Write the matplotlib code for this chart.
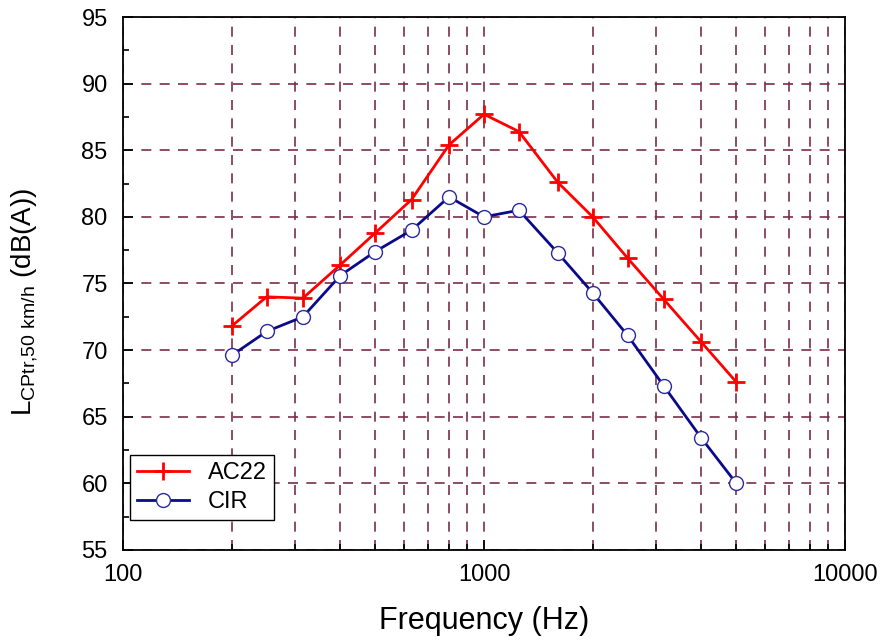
import matplotlib.pyplot as plt
from matplotlib.ticker import MultipleLocator, LogLocator, NullFormatter, FixedFormatter, FixedLocator

plt.rcParams['font.family'] = ['Liberation Sans', 'DejaVu Sans']
plt.rcParams['mathtext.default'] = 'regular'

# third-octave band centre frequencies (Hz)
freq = [200, 250, 315, 400, 500, 630, 800, 1000, 1250, 1600, 2000, 2500, 3150, 4000, 5000]
ac22 = [71.8, 74.0, 73.9, 76.4, 78.8, 81.3, 85.4, 87.7, 86.4, 82.6, 80.0, 76.9, 73.8, 70.6, 67.6]
cir = [69.6, 71.4, 72.5, 75.6, 77.4, 79.0, 81.5, 80.0, 80.5, 77.3, 74.3, 71.1, 67.3, 63.4, 60.0]

fig = plt.figure(figsize=(8.85, 6.44), dpi=100)
ax = fig.add_axes([123 / 885, 1 - 550 / 644, 722 / 885, 533 / 644])

grid_col = '#7a2e48'

ax.plot(freq, ac22, color='red', lw=2, marker='+', ms=13, mew=2, label='AC22', zorder=3)
ax.plot(freq, cir, color='#0a0a8a', lw=2, marker='o', ms=10, mfc='white', mec='#2a2aa0',
        mew=1, label='CIR', zorder=3)

ax.set_xscale('log')
ax.set_xlim(100, 10000)
ax.set_ylim(55, 95)
ax.yaxis.set_major_locator(MultipleLocator(5))
ax.yaxis.set_minor_locator(MultipleLocator(2.5))
ax.xaxis.set_major_locator(FixedLocator([100, 1000, 10000]))
ax.xaxis.set_major_formatter(FixedFormatter(['100', '1000', '10000']))
ax.xaxis.set_minor_locator(LogLocator(base=10, subs=range(2, 10)))
ax.xaxis.set_minor_formatter(NullFormatter())

ax.grid(True, which='major', axis='both', color=grid_col, ls=(0, (6, 5)), lw=1.2)
ax.grid(True, which='minor', axis='x', color=grid_col, ls=(0, (6, 5)), lw=1.2)

ax.tick_params(which='both', direction='in', labelsize=17, width=1.2)
ax.tick_params(which='major', length=7)
ax.tick_params(which='minor', length=4)
ax.tick_params(axis='x', pad=10)
ax.tick_params(axis='y', pad=11)
for s in ax.spines.values():
    s.set_linewidth(1.3)

ax.set_xlabel('Frequency (Hz)', fontsize=22)
ax.xaxis.set_label_coords(0.5, -0.105)
ax.set_ylabel('L$_{CPtr{,}50\\ km/h}$ (dB(A))', fontsize=20)
ax.yaxis.set_label_coords(-0.115, 0.465)

leg = ax.legend(loc='lower left', fontsize=17, fancybox=False, edgecolor='black',
                framealpha=1, handlelength=2.2, borderpad=0.3, labelspacing=0.3,
                borderaxespad=0, bbox_to_anchor=(0.01, 0.056))
leg.get_frame().set_linewidth(1)

fig.savefig('out.png', dpi=100)
